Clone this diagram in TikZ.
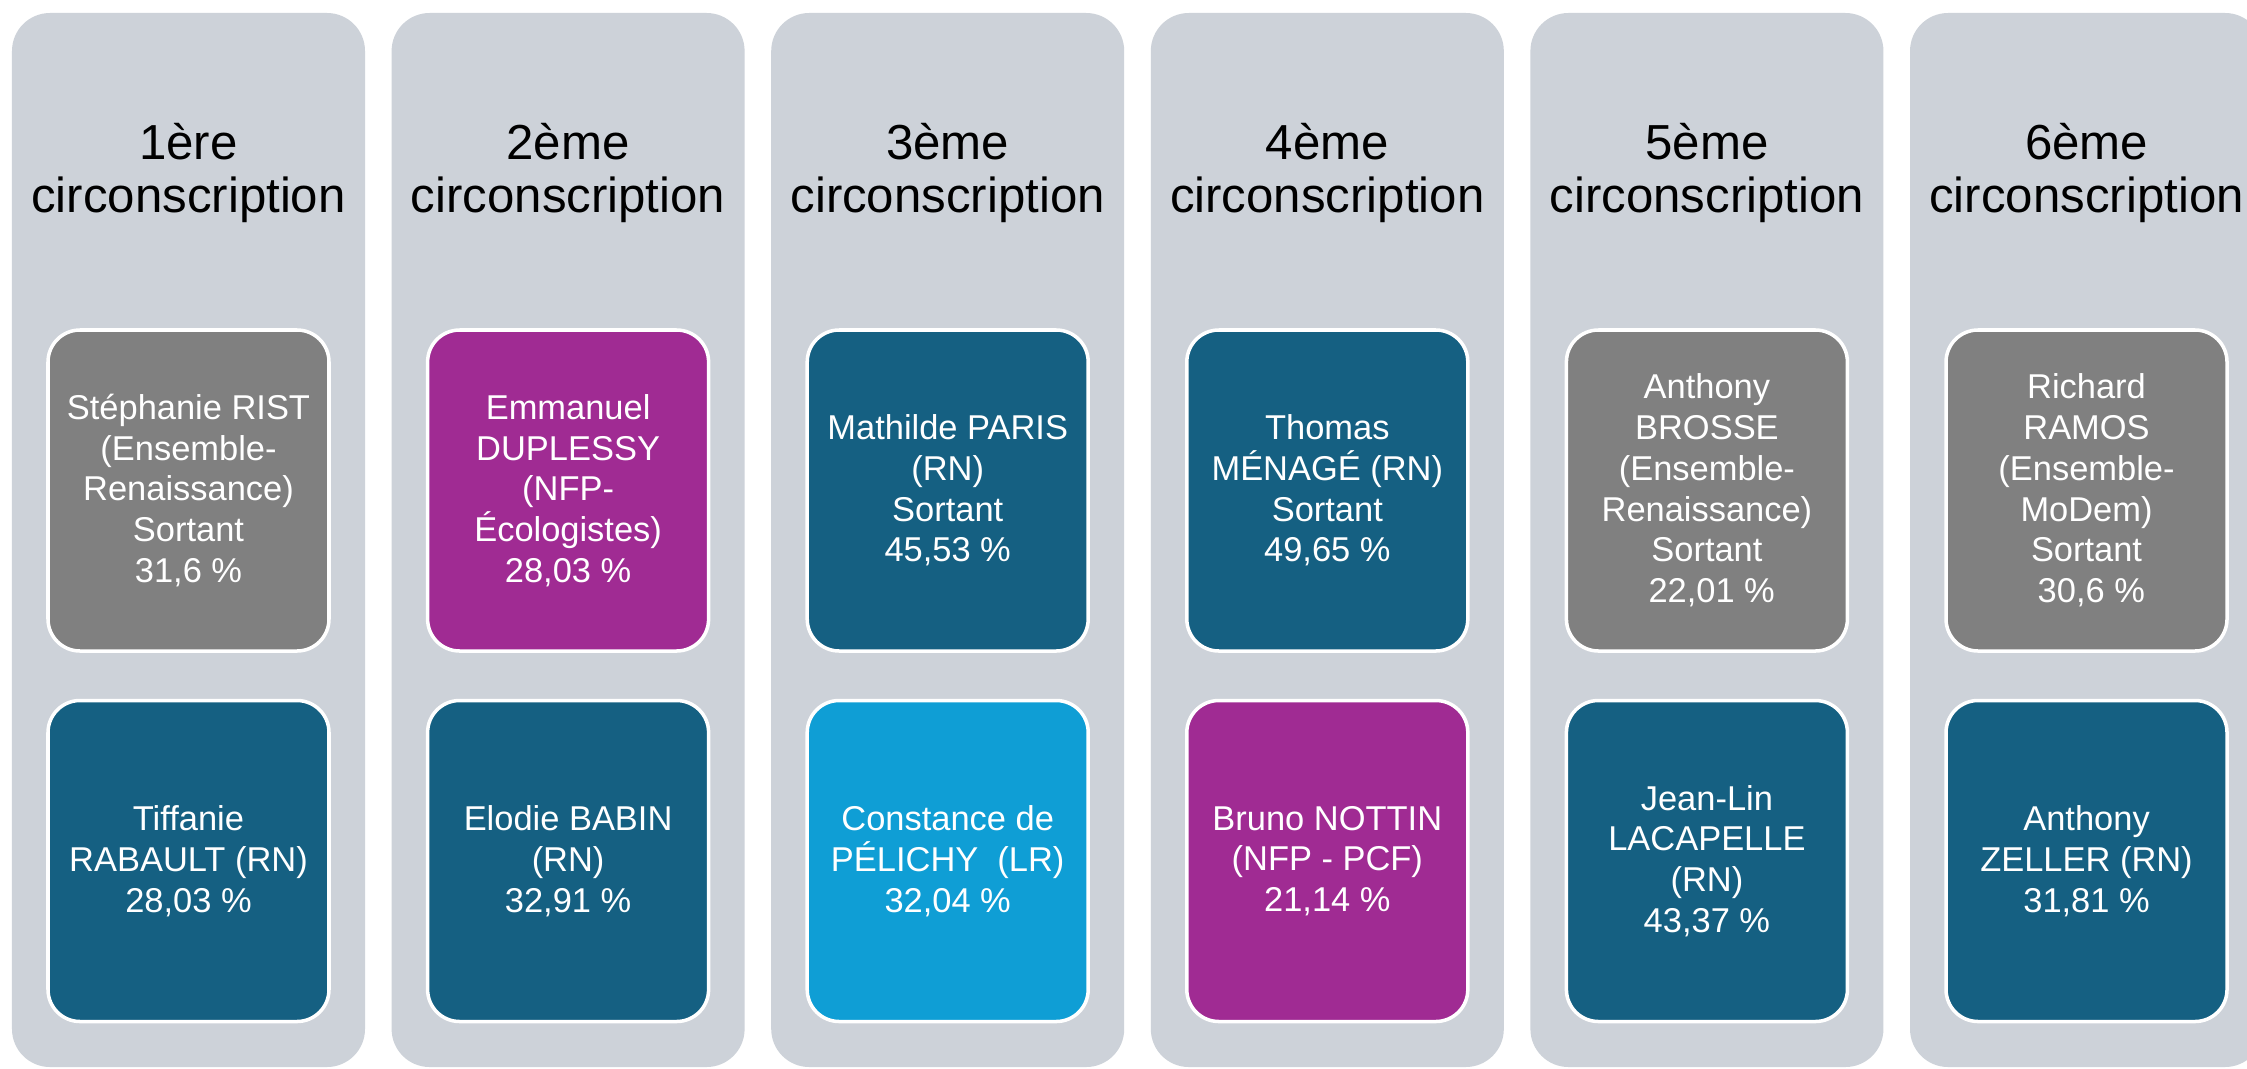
\documentclass[tikz,border=0pt]{standalone}
\usepackage{fontspec}
\setmainfont{Liberation Sans}
\usepackage{xcolor}
\usetikzlibrary{positioning}
\definecolor{colgray}{RGB}{205,210,217}
\definecolor{rnblue}{HTML}{156082}
\definecolor{nfppurple}{HTML}{A02B93}
\definecolor{lrblue}{HTML}{0F9ED5}
\definecolor{ensgray}{HTML}{808080}

\begin{document}
\begin{tikzpicture}[
    col/.style={fill=colgray,rounded corners=0.38cm,minimum width=3.53cm,minimum height=10.54cm,inner sep=0pt,outer sep=0pt},
    head/.style={inner sep=0pt,align=center,font=\fontsize{14}{14.9}\selectfont},
    cand/.style={draw=white,line width=1pt,rounded corners=0.32cm,minimum width=2.81cm,minimum height=3.21cm,inner sep=0pt,outer sep=0pt,align=center,text=white,font=\fontsize{9.8}{11.6}\selectfont}
]
    \fill[white] (0,0) rectangle (22.47,-10.68);
    \useasboundingbox (0,0) rectangle (22.47,-10.68);

    \node[col] (c1) at (1.885,-5.40) {};
    \node[head,below=1.1cm of c1.north] (h1) {1ère\\circonscription};
    \node[cand,fill=ensgray,below=3.17cm of c1.north] (t1) {Stéphanie RIST\\(Ensemble-\\Renaissance)\\Sortant\\31,6 \%};
    \node[cand,fill=rnblue,below=0.495cm of t1] (b1) {Tiffanie\\RABAULT (RN)\\28,03 \%};

    \node[col,right=0.266cm of c1] (c2) {};
    \node[head,below=1.1cm of c2.north] (h2) {2ème\\circonscription};
    \node[cand,fill=nfppurple,below=3.17cm of c2.north] (t2) {Emmanuel\\DUPLESSY\\(NFP-\\Écologistes)\\28,03 \%};
    \node[cand,fill=rnblue,below=0.495cm of t2] (b2) {Elodie BABIN\\(RN)\\32,91 \%};

    \node[col,right=0.266cm of c2] (c3) {};
    \node[head,below=1.1cm of c3.north] (h3) {3ème\\circonscription};
    \node[cand,fill=rnblue,below=3.17cm of c3.north] (t3) {Mathilde PARIS\\(RN)\\Sortant\\45,53 \%};
    \node[cand,fill=lrblue,below=0.495cm of t3] (b3) {Constance de\\PÉLICHY~ (LR)\\32,04 \%};

    \node[col,right=0.266cm of c3] (c4) {};
    \node[head,below=1.1cm of c4.north] (h4) {4ème\\circonscription};
    \node[cand,fill=rnblue,below=3.17cm of c4.north] (t4) {Thomas\\MÉNAGÉ (RN)\\Sortant\\49,65 \%};
    \node[cand,fill=nfppurple,below=0.495cm of t4] (b4) {Bruno NOTTIN\\(NFP - PCF)\\21,14 \%};

    \node[col,right=0.266cm of c4] (c5) {};
    \node[head,below=1.1cm of c5.north] (h5) {5ème\\circonscription};
    \node[cand,fill=ensgray,below=3.17cm of c5.north] (t5) {Anthony\\BROSSE\\(Ensemble-\\Renaissance)\\Sortant\\~22,01 \%};
    \node[cand,fill=rnblue,below=0.495cm of t5] (b5) {Jean-Lin\\LACAPELLE\\(RN)\\43,37 \%};

    \node[col,right=0.266cm of c5] (c6) {};
    \node[head,below=1.1cm of c6.north] (h6) {6ème\\circonscription};
    \node[cand,fill=ensgray,below=3.17cm of c6.north] (t6) {Richard\\RAMOS\\(Ensemble-\\MoDem)\\Sortant\\~30,6 \%};
    \node[cand,fill=rnblue,below=0.495cm of t6] (b6) {Anthony\\ZELLER (RN)\\31,81 \%};
\end{tikzpicture}
\end{document}
